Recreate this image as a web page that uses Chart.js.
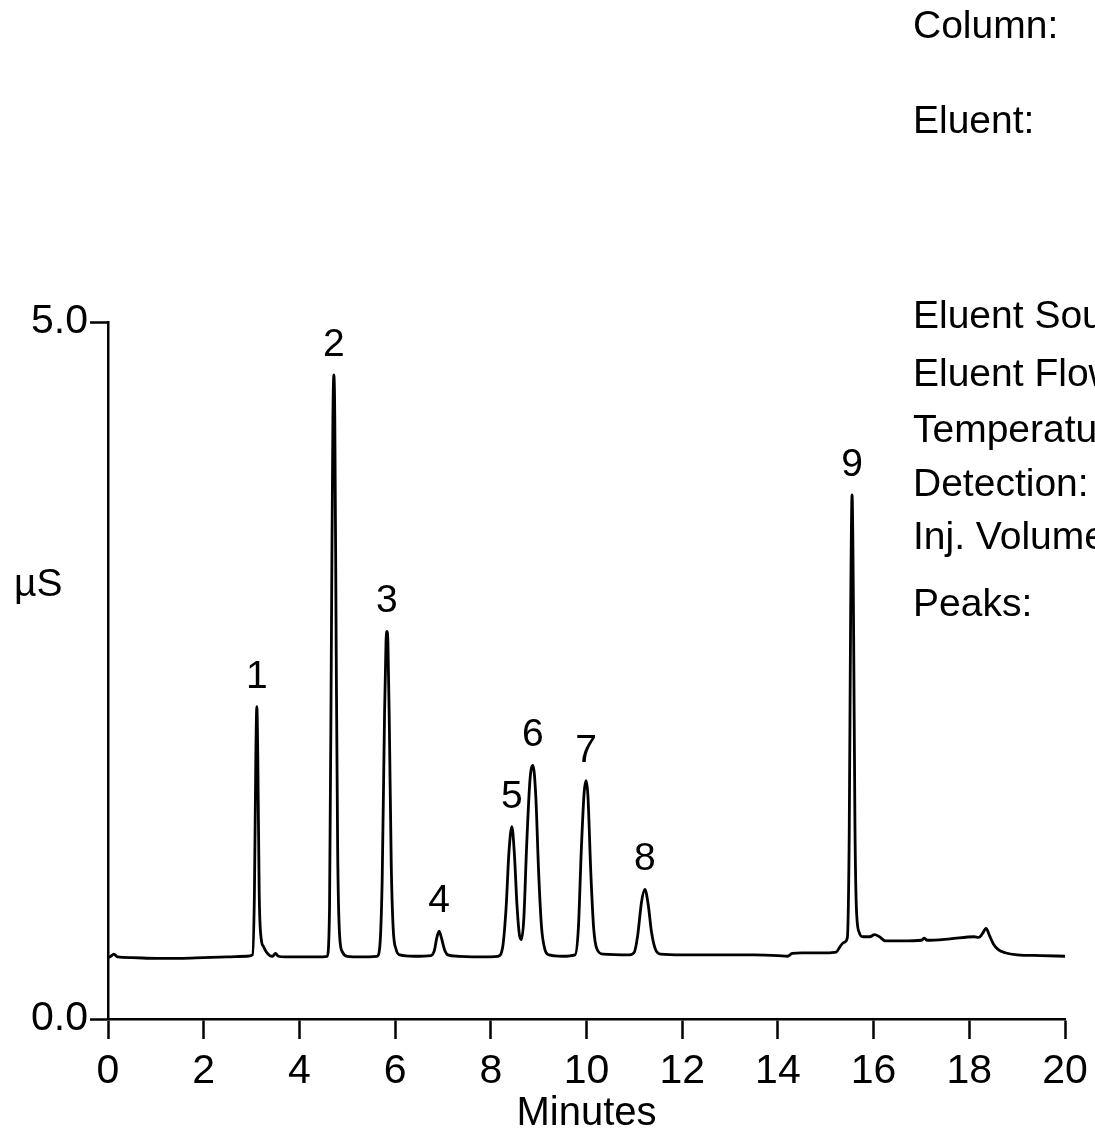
<!DOCTYPE html>
<html>
<head>
<meta charset="utf-8">
<script src="https://cdn.jsdelivr.net/npm/chart.js@4/dist/chart.umd.min.js"></script>
<style>
  body { margin: 0; background: #fff; }
  canvas { display: block; }
</style>
</head>
<body>
<canvas id="chrom" width="1095" height="1138"></canvas>
<script>
//----- Data -----//

// retention time (min) and conductivity (µS)
var times = [
  0.00, 0.06, 0.12, 0.20, 0.5, 1.0, 1.5, 2.0, 2.5, 2.9,
  3.02, 3.06, 3.09, 3.11, 3.13, 3.16, 3.2, 3.25, 3.31, 3.38, 3.44, 3.5, 3.56, 3.7,
  4.0, 4.4, 4.58, 4.63, 4.67, 4.70, 4.72, 4.74, 4.77, 4.80, 4.84, 4.9, 5.0, 5.3,
  5.62, 5.68, 5.73, 5.78, 5.81, 5.83, 5.85, 5.88, 5.92, 5.96, 6.02, 6.1, 6.4,
  6.75, 6.82, 6.87, 6.92, 6.97, 7.03, 7.1, 7.3, 7.8,
  8.15, 8.25, 8.32, 8.38, 8.44, 8.49, 8.55, 8.6, 8.64, 8.69, 8.75, 8.82, 8.88, 8.94, 9.0, 9.06, 9.13, 9.22, 9.5,
  9.76, 9.83, 9.89, 9.95, 9.99, 10.03, 10.09, 10.15, 10.22, 10.35, 10.9,
  11.0, 11.07, 11.15, 11.22, 11.29, 11.36, 11.44, 11.55, 12.0, 12.5, 13.0, 13.5,
  14.0, 14.2, 14.3, 14.5, 15.0, 15.22, 15.3, 15.38, 15.45, 15.49, 15.52, 15.55, 15.58, 15.61, 15.64, 15.7, 15.78,
  15.92, 16.02, 16.12, 16.25, 16.6, 17.0, 17.06, 17.12, 17.6, 18.1, 18.2, 18.27, 18.35, 18.42, 18.5, 18.6, 18.75,
  19.0, 19.5, 20.0
]
var signal = [
  0.44, 0.45, 0.465, 0.445, 0.44, 0.435, 0.435, 0.44, 0.445, 0.45,
  0.46, 0.9, 1.9, 2.24, 1.9, 0.9, 0.58, 0.52, 0.48, 0.455, 0.45, 0.47, 0.45, 0.445,
  0.445, 0.445, 0.45, 0.8, 2.8, 4.3, 4.62, 4.3, 2.6, 1.2, 0.6, 0.48, 0.45, 0.445,
  0.45, 0.52, 1.0, 2.2, 2.7, 2.78, 2.7, 2.1, 1.1, 0.65, 0.5, 0.46, 0.45,
  0.455, 0.49, 0.58, 0.63, 0.58, 0.5, 0.46, 0.45, 0.445,
  0.45, 0.52, 0.8, 1.2, 1.38, 1.2, 0.8, 0.6, 0.57, 0.72, 1.25, 1.72, 1.82, 1.6, 1.05, 0.66, 0.5, 0.46, 0.45,
  0.46, 0.65, 1.2, 1.62, 1.71, 1.6, 1.05, 0.65, 0.5, 0.465, 0.46,
  0.48, 0.6, 0.84, 0.93, 0.82, 0.62, 0.5, 0.465, 0.46, 0.46, 0.46, 0.46,
  0.455, 0.45, 0.47, 0.475, 0.475, 0.48, 0.52, 0.55, 0.58, 1.3, 2.9, 3.76, 2.9, 1.4, 0.8, 0.62, 0.59,
  0.59, 0.605, 0.59, 0.56, 0.56, 0.565, 0.58, 0.565, 0.575, 0.59, 0.585, 0.61, 0.65, 0.6, 0.54, 0.5, 0.475,
  0.46, 0.455, 0.45
]

// numbered peaks
var peakNames = ['1', '2', '3', '4', '5', '6', '7', '8', '9']
var peakTimes = [3.11, 4.72, 5.83, 6.92, 8.44, 8.88, 9.99, 11.22, 15.55]
var peakHeights = [2.24, 4.62, 2.78, 0.63, 1.38, 1.82, 1.71, 0.93, 3.76]

// axis ticks
var xTicks = [0, 2, 4, 6, 8, 10, 12, 14, 16, 18, 20]
var yTicks = [0, 5]

// conditions block on the right
var infoLines = ['Column:', 'Eluent:', 'Eluent Source:', 'Eluent Flow Rate:', 'Temperature:', 'Detection:', 'Inj. Volume:', 'Peaks:']
var infoRows = [0, 1.7, 5.2, 6.25, 7.25, 8.22, 9.18, 10.38]

//----- Extra text -----//

var FONT = '"Liberation Sans", Arial, sans-serif'

const textPlugin = {
  id: 'texts',
  afterDraw(chart) {
    const ctx = chart.ctx
    const xs = chart.scales.x
    const ys = chart.scales.y
    ctx.save()
    ctx.fillStyle = '#000'
    ctx.font = '39px ' + FONT
    ctx.textBaseline = 'alphabetic'

    // peak numbers
    ctx.textAlign = 'center'
    peakNames.forEach((n, i) => {
      ctx.fillText(n, xs.getPixelForValue(peakTimes[i]), ys.getPixelForValue(peakHeights[i]) - 19)
    })

    // y unit, horizontal
    ctx.textAlign = 'left'
    ctx.fillText('µS', 14, 596)

    // conditions, clipped by the canvas edge
    infoLines.forEach((t, i) => {
      ctx.fillText(t, 913, 38 + infoRows[i] * 55.7)
    })
    ctx.restore()
  }
}

//----- Chart -----//

const tickFont = { family: FONT, size: 41 }

new Chart(document.getElementById('chrom'), {
  type: 'line',
  data: {
    datasets: [{
      data: times.map((t, i) => ({ x: t, y: signal[i] })),
      borderColor: '#000',
      borderWidth: 2.8,
      pointRadius: 0,
      cubicInterpolationMode: 'monotone',
      fill: false
    }]
  },
  options: {
    responsive: false,
    devicePixelRatio: 1,
    animation: false,
    layout: { padding: { top: 322, right: 30, left: 0, bottom: 0 } },
    plugins: { legend: { display: false }, tooltip: { enabled: false } },
    scales: {
      x: {
        type: 'linear',
        min: 0,
        max: 20,
        afterBuildTicks: (s) => { s.ticks = xTicks.map(v => ({ value: v })) },
        afterFit: (s) => { s.height = 119; s.paddingLeft = 0; s.paddingRight = 0 },
        ticks: {
          color: '#000',
          font: tickFont,
          padding: 8,
          maxRotation: 0,
          autoSkip: false,
          callback: (v) => String(v)
        },
        grid: { drawOnChartArea: false, drawTicks: true, tickLength: 20, tickWidth: 2.5, tickColor: '#000' },
        border: { display: true, color: '#000', width: 2.5 },
        title: {
          display: true,
          text: 'Minutes',
          color: '#000',
          font: { family: FONT, size: 40 },
          padding: { top: 0, bottom: 0 }
        }
      },
      y: {
        min: 0,
        max: 5,
        afterBuildTicks: (s) => { s.ticks = yTicks.map(v => ({ value: v })) },
        afterFit: (s) => { s.width = 108; s.paddingTop = 0; s.paddingBottom = 0 },
        ticks: {
          color: '#000',
          font: tickFont,
          padding: 2,
          callback: (v) => v.toFixed(1)
        },
        grid: { drawOnChartArea: false, drawTicks: true, tickLength: 18, tickWidth: 2.5, tickColor: '#000' },
        border: { display: true, color: '#000', width: 2.5 }
      }
    }
  },
  plugins: [textPlugin]
})
</script>
</body>
</html>
